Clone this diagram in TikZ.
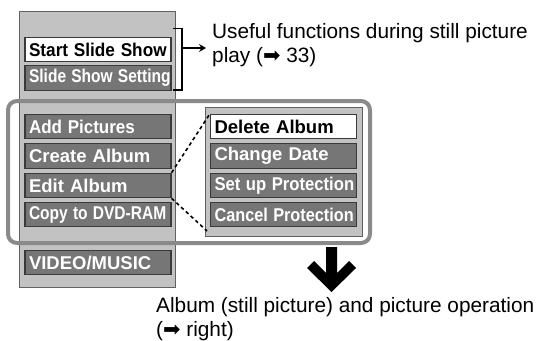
\documentclass[tikz,border=0pt]{standalone}
\usepackage{fontspec}
\setmainfont{Liberation Sans}
\newfontfamily\symfont{DejaVu Sans}
\usepackage{graphicx}
\usetikzlibrary{calc,arrows.meta}
\definecolor{panelgray}{HTML}{C2C2C2}
\definecolor{btngray}{HTML}{767676}
\definecolor{edgegray}{HTML}{3A3A3A}
\definecolor{framegray}{HTML}{8A8A8A}
\tikzset{
  menubtn/.style={draw=edgegray, line width=1.1pt, fill=btngray, text=white, text width=138pt, inner xsep=4pt, inner ysep=0pt, minimum height=24.5pt, align=left, font=\fontsize{18.5}{20}\selectfont\bfseries},
  selbtn/.style={menubtn, fill=white, text=black},
  menupanel/.style={draw=edgegray!80, line width=0.8pt, fill=panelgray},
  note/.style={anchor=base west, align=left, inner sep=0pt, font=\fontsize{20.8}{24}\selectfont}
}
\newcommand\sq[2]{\scalebox{#1}[1]{#2}}

\begin{document}
\begin{tikzpicture}[x=1pt, y=-1pt]
\useasboundingbox (0,0) rectangle (545,340);
\draw[menupanel] (19,11) rectangle (175,287);
\draw[menupanel] (205,107) rectangle (362,236);
\draw[framegray, line width=4pt, rounded corners=9pt] (8,101) rectangle (370,243);
% left menu
\node[selbtn] (start) at (98,49.5) {\sq{0.93}{Start Slide Show}};
\node[menubtn] (setting) at (98,78) {\sq{0.84}{Slide Show Setting}};
\node[menubtn] (addpic) at (98,126.5) {\sq{0.92}{Add Pictures}};
\node[menubtn] (create) at (98,156) {Create Album};
\node[menubtn] (edit) at (98,185.5) {Edit Album};
\node[menubtn] (copy) at (98,214.5) {\sq{0.84}{Copy to DVD-RAM}};
\node[menubtn] (video) at (98,262.5) {VIDEO/MUSIC};
% sub menu
\node[selbtn] (delete) at (283.5,126.5) {Delete Album};
\node[menubtn] (date) at (283.5,156) {Change Date};
\node[menubtn] (protect) at (283.5,185.5) {\sq{0.9}{Set up Protection}};
\node[menubtn] (cancel) at (283.5,214.5) {\sq{0.88}{Cancel Protection}};
\coordinate (subcorner) at (207,231);
\draw[line width=1.6pt, dash pattern=on 3.5pt off 3pt] (edit.north east) -- (delete.north west);
\draw[line width=1.6pt, dash pattern=on 3.5pt off 3pt] (edit.south east) -- (subcorner);
% bracket and notes
\draw[line width=1.8pt] (173,28.5) -- (182,28.5) -- (182,90) -- (173,90);
\node[note] (useful) at (212,62) {Useful functions during still picture\\play ({\symfont ➡} 33)};
\coordinate (brk) at (182,48);
\draw[line width=2.4pt, -{Stealth[length=7pt, width=8pt]}, shorten >=6pt] (brk) -- (useful.west |- brk);
\fill (326,247) -- (337,247) -- (337,273) -- (349,261) -- (356,268) -- (331.5,292) -- (307,268) -- (314,261) -- (326,273) -- cycle;
\node[note] (album) at (156,336) {Album (still picture) and picture operation\\({\symfont ➡} right)};
\end{tikzpicture}
\end{document}
